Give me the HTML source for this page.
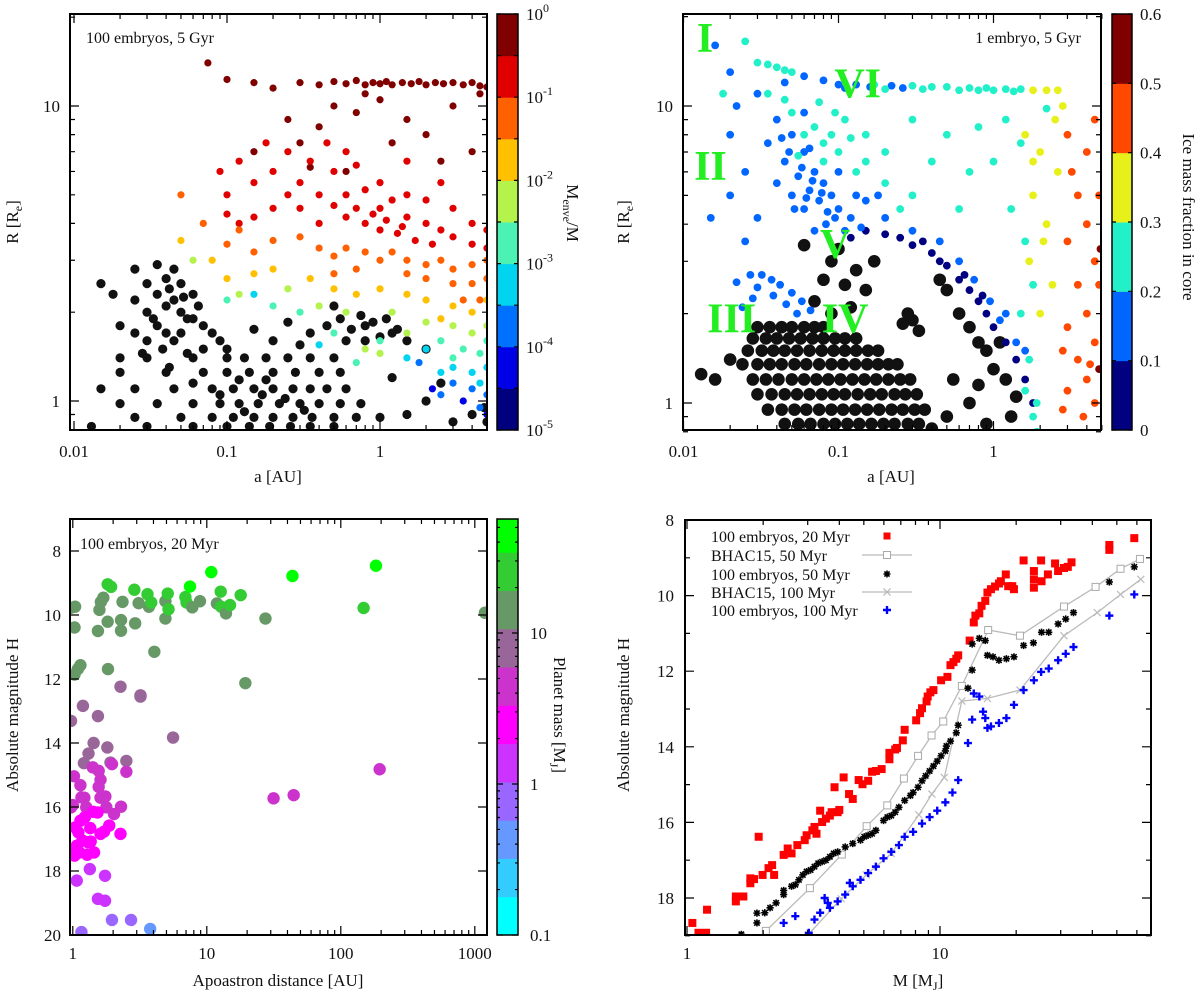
<!DOCTYPE html>
<html><head><meta charset="utf-8"><title>Planet population panels</title>
<style>
html,body{margin:0;padding:0;background:#fff;}
svg{display:block;font-family:"Liberation Serif","DejaVu Serif",serif;}
</style></head>
<body>
<svg id="fig" width="1200" height="1005" viewBox="0 0 1200 1005" xmlns="http://www.w3.org/2000/svg">
<defs>
<clipPath id="c1"><rect x="70" y="14" width="417" height="416"/></clipPath>
<clipPath id="c2"><rect x="683" y="14" width="418" height="416"/></clipPath>
<clipPath id="c3"><rect x="70" y="519" width="417" height="416"/></clipPath>
<clipPath id="c4"><rect x="685" y="520" width="466" height="415"/></clipPath>
</defs>
</svg>
<script>
// ---------------- Panel 1 data (a [AU], R [Re]); envelope fraction groups (log10 Menv/M) ----------------
const p1Black = [[0.025,2.8],[0.03,2.5],[0.035,2.9],[0.04,2.6],[0.045,2.8],[0.05,2.5],[0.06,2.3],[0.025,2.2],[0.03,2.0],[0.035,2.3],[0.04,2.1],[0.045,2.2],[0.05,2.0],[0.055,1.9],[0.06,1.9],[0.07,1.8],[0.08,1.7],[0.02,1.8],[0.025,1.7],[0.03,1.6],[0.035,1.8],[0.04,1.7],[0.045,1.6],[0.05,1.7],[0.065,2.1],[0.07,1.5],[0.09,1.6],[0.1,1.5],[0.018,2.3],[0.015,2.5],[0.02,1.4],[0.028,1.45],[0.038,1.5],[0.055,1.45],
[0.03,1.4],[0.06,1.4],[0.1,1.4],[0.13,1.4],[0.18,1.4],[0.25,1.4],[0.35,1.4],[0.5,1.4],
[0.02,1.25],[0.04,1.25],[0.07,1.25],[0.1,1.25],[0.14,1.25],[0.2,1.25],[0.28,1.25],[0.4,1.25],[0.55,1.25],
[0.015,1.1],[0.025,1.1],[0.045,1.1],[0.08,1.1],[0.11,1.1],[0.15,1.1],[0.2,1.1],[0.27,1.1],[0.35,1.1],[0.45,1.1],[0.6,1.1],
[0.02,0.98],[0.035,0.98],[0.06,0.98],[0.09,0.98],[0.12,0.98],[0.16,0.98],[0.22,0.98],[0.3,0.98],[0.4,0.98],[0.55,0.98],[0.75,0.98],
[0.025,0.88],[0.05,0.88],[0.08,0.88],[0.11,0.88],[0.15,0.88],[0.2,0.88],[0.27,0.88],[0.36,0.88],[0.5,0.88],[0.7,0.88],[1.0,0.88],
[0.013,0.82],[0.03,0.82],[0.06,0.82],[0.1,0.82],[0.14,0.82],[0.19,0.82],[0.26,0.82],[0.35,0.82],[0.5,0.82],
[0.45,1.8],[0.55,1.9],[0.65,1.75],[0.75,1.95],[0.9,1.85],[1.1,1.9],[1.3,1.75],[0.6,1.6],[0.8,1.6],[1.0,1.65],[1.5,1.6],[2,1.5],[0.5,2.1],[0.35,1.7],
[1.5,0.9],[2,1.0],[3,0.85],[4,0.9],[4.8,0.95],[5,0.85],[1.2,1.2],[2.5,1.15],[0.3,1.55],[0.2,1.6],[0.25,1.85],[0.15,1.75],
[0.12,1.18],[0.17,1.05],[0.24,1.02],[0.32,0.93],[0.13,0.92],[0.18,1.18],[0.09,1.05],[0.06,1.15],[0.042,1.3],[0.033,1.9],[0.042,2.4],[0.052,2.25],[0.8,1.8],[1.2,1.7]];
const p1DarkRed = [[0.3,12],[0.4,11.8],[0.5,12.1],[0.6,11.9],[0.7,12.2],[0.8,11.8],[0.9,12],[1,11.9],[1.1,12.1],[1.2,11.8],[1.4,12],[1.6,11.9],[1.8,12.1],[2,11.8],[2.3,12],[2.6,11.9],[3,12],[3.5,11.8],[4,12],[4.5,11.7],[5,11.6],
[0.1,12.3],[0.15,12],[0.075,14],[0.2,11.5],[0.25,9],[0.3,7.5],[0.4,8.5],[0.5,10],[0.7,9.5],[1,10.5],[1.5,9],[2,8],[3,10],[4,7],[2.5,6.5],[0.6,6],[0.15,7],[0.35,6.2],[4.5,11],[1.2,7.5],[0.8,11]];
const p1Red = [[0.09,6],[0.1,5],[0.12,6.5],[0.15,5.5],[0.2,6],[0.25,7],[0.3,5.5],[0.35,6.5],[0.4,5],[0.5,6],[0.6,5],[0.7,4.5],[0.8,5.2],[1,4.5],[1.2,4.8],[1.5,4.2],[2,4],[2.5,3.8],[3,3.6],[4,3.4],[5,3.3],[0.8,4],[1,3.8],[1.3,3.7],[1.7,3.5],[2.2,3.4],[0.6,4.2],[0.5,4.6],[0.4,4],[0.3,4.5],[0.2,4.5],[0.15,4.2],[0.12,4],[0.25,5],[0.7,6.3],[1,5.5],[1.5,5],[2,4.8],[3,4.5],[4,4],[5,3.8],[0.9,4.3],[1.1,4.1],[1.4,3.9],[0.45,7.5],[0.6,7],[1.5,6.5],[2.5,5.5],[0.18,7.5],[0.1,4.3]];
const p1Orange = [[0.1,3.4],[0.12,3.8],[0.15,3.2],[0.2,3.5],[0.3,3.6],[0.4,3.3],[0.5,3.1],[0.6,3.3],[0.8,3.2],[1,3.0],[1.2,3.2],[1.5,3.0],[2,2.9],[2.5,3.0],[3,2.8],[4,2.9],[5,3.0],[1.5,2.7],[2,2.6],[3,2.5],[4,2.5],[5,2.6],[0.7,2.8],[0.5,2.7],[4.5,2.2],[3.5,2.2],[0.07,4],[0.05,5]];
const p1Yellow = [[0.08,3.0],[0.1,2.6],[0.15,2.7],[0.2,2.8],[0.35,2.6],[0.5,2.4],[0.7,2.3],[1,2.4],[1.5,2.3],[2,2.2],[3,2.1],[4,2.0],[5,2.2],[2.5,1.9],[0.05,3.5]];
const p1YGreen = [[0.06,3],[0.12,2.3],[0.25,2.4],[0.4,2.1],[0.6,2.0],[1.2,2.0],[2,1.85],[3,1.8],[4,1.7],[5,1.8],[1.5,1.7],[0.8,1.5],[1.0,1.45]];
const p1Aqua = [[0.1,2.2],[0.2,2.1],[0.3,2.0],[0.5,1.7],[1,1.6],[2.5,1.6],[3.5,1.5],[4.5,1.45],[5,1.6],[3,1.4],[0.7,1.35]];
const p1Cyan = [[0.15,2.3],[0.4,1.55],[2,1.5],[3,1.3],[4,1.25],[5,1.3],[4.5,1.15],[2.5,1.25],[1.5,1.4]];
const p1Blue = [[4,1.1],[5,1.05],[3,1.15],[2.5,1.05],[4.5,0.95],[1.8,1.35]];
const p1Navy = [[3.5,1.0],[5,0.9],[2.2,1.1]];
const p1Groups = [p1DarkRed,p1Red,p1Orange,p1Yellow,p1YGreen,p1Aqua,p1Cyan,p1Blue,p1Navy];
const p1GroupLevels = [-0.25,-0.75,-1.25,-1.75,-2.25,-2.75,-3.25,-3.75,-4.25];
const p1CbLabels = ['0','-1','-2','-3','-4','-5'];

// ---------------- Panel 2 data (a, R); ice fraction groups ----------------
const p2Black = [[0.03,1.8],[0.036,1.8],[0.043,1.8],[0.05,1.8],[0.06,1.8],[0.07,1.8],[0.08,1.8],
[0.028,1.65],[0.034,1.65],[0.04,1.65],[0.048,1.65],[0.057,1.65],[0.068,1.65],[0.08,1.65],[0.095,1.65],[0.11,1.65],[0.13,1.65],
[0.026,1.5],[0.032,1.5],[0.038,1.5],[0.045,1.5],[0.054,1.5],[0.065,1.5],[0.078,1.5],[0.093,1.5],[0.11,1.5],[0.13,1.5],[0.155,1.5],[0.18,1.5],
[0.024,1.35],[0.03,1.35],[0.036,1.35],[0.043,1.35],[0.052,1.35],[0.062,1.35],[0.075,1.35],[0.09,1.35],[0.107,1.35],[0.128,1.35],[0.153,1.35],[0.18,1.35],[0.21,1.35],[0.24,1.35],
[0.028,1.2],[0.034,1.2],[0.041,1.2],[0.05,1.2],[0.06,1.2],[0.072,1.2],[0.086,1.2],[0.103,1.2],[0.123,1.2],[0.147,1.2],[0.175,1.2],[0.21,1.2],[0.25,1.2],[0.29,1.2],
[0.03,1.07],[0.037,1.07],[0.045,1.07],[0.054,1.07],[0.065,1.07],[0.078,1.07],[0.093,1.07],[0.11,1.07],[0.133,1.07],[0.16,1.07],[0.19,1.07],[0.23,1.07],[0.27,1.07],[0.32,1.07],
[0.035,0.95],[0.043,0.95],[0.052,0.95],[0.062,0.95],[0.075,0.95],[0.09,0.95],[0.107,0.95],[0.128,0.95],[0.153,0.95],[0.183,0.95],[0.22,0.95],[0.26,0.95],[0.31,0.95],[0.36,0.95],
[0.045,0.85],[0.055,0.85],[0.066,0.85],[0.08,0.85],[0.095,0.85],[0.114,0.85],[0.136,0.85],[0.163,0.85],[0.195,0.85],[0.23,0.85],[0.28,0.85],[0.33,0.85],
[0.07,2.2],[0.08,2.6],[0.09,3.0],[0.1,3.3],[0.11,2.5],[0.12,2.1],[0.13,2.8],[0.09,2.0],[0.06,3.4],[0.15,2.4],[0.17,3.0],[0.3,1.9],[0.28,2.0],[0.33,1.75],[0.26,1.85],[0.5,2.4],[0.6,2.0],[0.7,1.8],[0.8,1.6],[0.9,1.5],[1.0,1.3],[1.2,1.2],[1.4,1.05],[0.55,1.2],[0.7,1.0],[0.5,0.9],[0.9,0.85],[1.3,0.9],[0.016,1.2],[0.013,1.25],[0.02,1.4],[0.4,0.82],[0.8,1.15],[1.1,1.6],[0.45,2.6]];
const p2Navy = [[0.12,3.6],[0.15,3.8],[0.2,3.7],[0.25,3.6],[0.3,3.4],[0.4,3.2],[0.5,2.9],[0.6,2.6],[0.7,2.4],[0.8,2.2],[0.9,2.0],[1.0,1.8],[1.2,1.6],[1.4,1.4],[1.6,1.2],[1.8,1.0],[0.35,3.5],[0.45,3.0],[0.65,2.7],[0.85,2.3]];
const p2Blue = [[0.04,9],[0.05,8],[0.06,7],[0.045,6.5],[0.055,5.8],[0.065,5.2],[0.075,4.8],[0.085,4.4],[0.07,6],[0.08,5.5],[0.09,5],[0.1,4.5],[0.12,4.2],[0.05,5],[0.06,4.5],[0.04,5.5],[0.035,7.5],[0.1,6],[0.13,5],[0.15,4.8],[0.18,5],[0.06,9.5],[0.02,8],[0.025,6],[0.03,4.2],[0.11,3.8],[0.14,3.9],[0.07,3.8],
[0.2,4.2],[0.3,3.8],[0.45,3.5],[0.6,3.0],[0.75,2.6],[0.95,2.2],[1.1,1.9],[1.4,1.6],[1.6,1.5],[1.2,2.0],
[0.022,2.55],[0.027,2.7],[0.032,2.7],[0.037,2.6],[0.042,2.5],[0.05,2.35],[0.058,2.2],[0.066,2.05],[0.03,2.45],[0.038,2.3],[0.046,2.15],[0.054,2.0],[0.028,2.25],[0.024,2.1],
[0.016,16],[0.02,13],[0.022,10],[0.03,11],[0.015,4.2],[0.02,5],[0.025,3.5],[0.045,12],
[0.06,12.6],[0.08,12.2],[0.1,11.8],[0.13,11.8],[0.22,11.7],[0.11,11.5],[0.16,11.6],[0.26,11.5],
[0.048,7],[0.058,6.2],[0.068,5.6],[0.078,5.1],[0.052,4.5],[0.062,4.9],[0.083,4.0],[0.095,4.2],[0.043,7.8],[0.065,7.2]];
const p2Aqua = [[0.05,9.5],[0.07,8.5],[0.08,7.5],[0.09,8],[0.1,7],[0.06,8],[0.12,7.8],[0.11,9],[0.045,10.5],[0.15,6.5],[0.13,6],[0.055,6.8],[0.2,5.5],[0.08,6.5],
[0.3,9],[0.5,8],[0.8,8.5],[1.2,9],[0.2,7],[0.4,6.5],[0.7,6],[1,6.5],[1.5,7.5],[0.3,5],[0.6,4.5],[1.3,4.5],[1.6,3.5],[1.8,2.5],[1.5,2],[1.7,1.4],[1.9,1.0],[0.15,8],[0.25,4.5],[2.2,9.8],[1.8,0.9],[1.6,1.1],[1.9,0.8],
[0.03,14],[0.04,13.5],[0.05,13],[0.17,11.8],[0.3,11.7],[0.4,11.6],[0.5,11.6],[0.7,11.5],[0.9,11.5],[1.2,11.4],[1.5,11.4],[0.025,16.5],[0.018,11],[0.035,11],
[0.035,13.8],[0.045,13.2],[0.2,11.4],[0.35,11.4],[0.6,11.3],[0.8,11.3],[1.0,11.3],[1.35,11.2],[0.075,10.3],[0.095,9.5]];
const p2Yellow = [[1.8,11.3],[2.2,11.3],[2.6,11.3],[1.6,8],[2,7],[2.5,9],[1.8,5],[2.2,4],[1.7,3],[2.4,2.5],[2.6,6],[2,2],[1.8,6.5],[2.8,10],[2.1,3.5]];
const p2Orange = [[3,8],[4,7],[4.5,9],[3.5,5],[4,4],[3,3.5],[4.5,3],[3.5,2.5],[4,2],[3,1.8],[4.5,1.6],[3.5,1.4],[4,1.2],[3,1.1],[4.5,1.0],[3.8,0.9],[2.8,0.95],[4.8,5],[3.2,6],[4.8,2.5],[2.8,1.5],[4.2,1.35]];
const p2DarkRed = [[4.8,1.3],[4.9,3.3]];
const p2Groups = [p2Navy,p2Blue,p2Aqua,p2Yellow,p2Orange,p2DarkRed];
const p2GroupIce = [0.05,0.15,0.25,0.35,0.45,0.55];
const p2CbLabels = ['0','0.1','0.2','0.3','0.4','0.5','0.6'];
const p2Regions = ['I','II','III','IV','V','VI'];
const p2RegionA = [0.0122,0.0117,0.0142,0.078,0.076,0.094];
const p2RegionR = [15.2,5.63,1.73,1.73,3.08,10.7];

// ---------------- Panel 3 data: apoastron [AU], H, mass [MJ] ----------------
const p3Apo = [0.97,1.04,1.03,1.03,1.09,1.14,0.97,1.19,1.54,1.58,1.62,1.69,1.82,1.93,1.82,1.83,2.29,2.29,2.35,2.88,2.92,3.10,3.61,3.70,3.85,4.06,4.91,4.91,5.11,5.18,6.92,7.06,7.49,7.79,8.89,10.8,11.9,12.7,12.8,13.9,14.9,17.9,19.4,27.4,43.6,148,183,1190,
2.27,3.20,3.20,1.54,5.60,1.43,1.31,1.81,1.21,1.91,2.51,
1.02,2.51,1.14,1.41,1.56,1.61,1.56,1.22,1.61,1.75,1.96,0.97,1.0,1.26,1.78,2.03,2.29,195,31.5,44.5,1.16,
1.04,1.10,1.07,1.03,1.18,1.14,1.23,1.35,1.42,1.53,1.61,1.71,1.87,1.30,1.36,1.44,1.28,1.12,2.27,1.04,
1.07,1.34,1.74,1.54,1.74,1.96,2.72,1.16,3.78];
const p3H = [9.77,9.74,10.39,11.86,11.69,11.57,13.31,12.84,10.50,9.84,9.59,9.46,9.04,9.12,10.21,11.69,10.16,10.49,9.59,9.21,10.26,9.63,9.35,9.74,9.61,11.15,9.57,10.11,9.33,9.82,9.44,9.61,9.11,9.76,9.57,8.66,9.64,9.27,9.74,9.95,9.69,9.38,12.13,10.11,8.78,9.78,8.46,9.93,
12.24,12.51,12.55,13.16,13.83,14.00,14.33,14.14,14.63,14.61,14.56,
15.04,14.90,15.32,14.76,14.87,15.15,15.37,15.71,15.71,15.67,14.66,16.01,15.94,16.01,16.01,16.22,15.99,14.82,15.73,15.63,15.70,
16.64,16.79,17.21,17.52,17.05,16.43,16.32,16.66,16.15,16.17,16.84,16.77,16.58,17.10,17.08,17.42,17.49,17.42,16.84,17.31,
18.30,17.94,18.15,18.87,18.93,19.53,19.53,19.91,19.81];
const p3Mass = [14,14,14,14,14,14,7.8,7.8,14,14,14,14,25,25,14,14,14,14,14,25,14,14,25,14,25,14,14,14,25,25,25,25,45,14,14,45,14,25,25,14,25,25,14,14,45,25,45,14,
7.8,7.8,7.8,7.8,7.8,7.8,7.8,7.8,7.8,7.8,7.8,
4.4,4.4,4.4,4.4,4.4,4.4,4.4,4.4,4.4,4.4,4.4,4.4,4.4,4.4,4.4,4.4,4.4,4.4,4.4,4.4,4.4,
2.45,2.45,2.45,2.45,2.45,2.45,2.45,2.45,2.45,2.45,2.45,2.45,2.45,2.45,2.45,2.45,2.45,2.45,2.45,2.45,
1.37,1.37,1.37,1.37,1.37,0.77,0.77,0.77,0.43];
const p3CbTicks = [0.1,1,10];

// ---------------- Panel 4 data: M [MJ], H ----------------
const p4RedM = [1.05,1.11,1.20,1.19,1.56,1.56,1.67,1.78,1.78,1.84,1.92,1.99,2.10,2.17,2.21,2.41,2.50,2.59,2.73,2.92,2.97,3.13,3.19,3.25,3.36,3.42,3.54,3.67,3.73,3.83,3.94,4.00,4.16,4.37,4.52,4.77,4.94,5.20,5.39,5.58,5.88,6.31,6.31,6.65,6.76,7.13,7.25,8.05,8.34,8.49,8.85,8.94,9.16,9.42,10.1,10.7,11.0,11.3,11.6,11.8,13.1,13.6,13.8,14.3,14.6,15.1,15.4,15.9,16.5,17.1,17.4,18.2,18.6,19.3,19.6,21.4,23.5,23.5,23.5,25.1,25.2,26.7,28.5,29.3,30.9,32.0,33.1,46.7,46.7,58.6];
const p4RedH = [18.66,18.92,18.31,18.92,18.09,17.96,17.96,17.61,17.48,17.50,16.38,17.39,17.21,17.13,17.39,16.86,16.69,16.82,16.60,16.47,16.34,16.21,16.12,16.30,15.69,15.99,15.90,15.82,15.73,15.07,15.73,15.67,14.81,15.25,15.38,14.88,14.99,14.90,14.66,14.64,14.59,14.16,14.33,14.07,14.03,13.83,13.55,13.30,13.11,12.98,12.80,12.67,12.56,12.50,12.24,12.15,11.84,11.76,11.67,11.58,11.19,10.71,10.53,10.47,10.27,10.14,9.92,9.83,9.76,9.68,9.62,9.44,9.75,9.75,9.83,9.07,9.35,9.57,9.79,9.07,9.62,9.44,9.15,9.35,9.27,9.24,9.12,8.66,8.79,8.48];
const p4BlackM = [1.64,1.89,2.03,2.13,2.25,2.41,2.59,2.77,2.97,3.19,3.42,3.67,3.94,4.22,4.52,4.85,5.20,5.58,5.98,6.42,6.88,7.25,7.83,8.49,9.10,9.75,10.5,11.0,11.6,11.8,12.9,13.4,13.4,14.3,15.1,15.4,16.2,17.1,18.3,19.6,21.4,23.4,25.2,26.9,29.3,31.4,33.7,46.7,58.6,
2.68,2.87,3.08,3.30,3.54,3.80,5.02,5.39,6.19,6.65,7.64,8.19,8.78,9.42,10.1,10.6,1.89,2.41];
const p4BlackH = [18.96,18.66,18.39,18.26,18.13,17.91,17.69,17.52,17.30,17.17,17.04,16.91,16.78,16.65,16.56,16.47,16.34,16.21,15.95,15.82,15.60,15.42,15.21,14.90,14.64,14.38,14.11,13.85,13.63,13.43,12.45,11.97,11.28,11.13,11.19,11.58,11.62,11.71,11.67,11.62,11.32,11.25,10.97,10.97,10.75,10.62,10.45,9.64,9.24,
17.65,17.39,17.26,17.08,17.00,16.82,16.38,16.30,15.86,15.73,15.29,15.07,14.77,14.51,14.24,13.98,18.40,17.80];
const p4BlueM = [2.41,3.03,3.19,3.36,3.60,3.67,3.94,4.22,4.52,4.85,5.20,5.58,5.98,6.42,6.88,7.25,7.83,8.49,9.10,9.75,10.5,11.2,11.8,12.9,13.4,13.6,14.3,14.8,15.1,15.4,15.9,17.1,18.3,19.6,21.4,23.5,25.1,26.9,29.3,31.4,33.7,46.7,58.6,2.68,3.50,4.40];
const p4BlueH = [18.66,18.92,18.57,18.39,18.13,18.26,18.09,17.91,17.69,17.52,17.34,17.17,16.95,16.78,16.60,16.38,16.25,16.03,15.86,15.69,15.47,15.21,14.88,13.90,13.28,12.59,12.67,13.07,13.24,13.50,13.46,13.37,13.24,12.89,12.50,12.24,12.02,11.93,11.71,11.54,11.36,10.53,9.97,18.48,18.00,17.60];
const bhac50M = [2.05,3.06,4.09,5.13,6.19,7.20,8.19,9.26,10.3,12.2,15.5,20.7,30.9,41.2,51.7,61.7];
const bhac50H = [18.87,17.74,16.85,16.10,15.55,14.84,14.24,13.70,13.33,12.39,10.91,11.06,10.29,9.77,9.29,9.03];
const bhac100M = [3.06,4.07,5.11,6.42,8.25,9.29,10.4,12.2,15.4,20.7,30.9,41.8,51.7,62.2];
const bhac100H = [18.92,18.02,17.39,16.82,15.80,15.25,14.81,12.79,12.72,12.50,11.06,10.45,9.97,9.57];
const p4LegendLabels = ['100 embryos, 20 Myr','BHAC15, 50 Myr','100 embryos, 50 Myr','BHAC15, 100 Myr','100 embryos, 100 Myr'];

// ---------------- scales ----------------
const L = Math.log10;
const x1 = a => 74 + 153*L(a/0.01),  y1 = R => 401 - 295*L(R);
const x2 = a => 683.5 + 155*L(a/0.01), y2 = R => 403 - 297*L(R);
const x3 = a => 72.8 + 134*L(a), y3 = H => 519 + (H-7)*32;
const x4 = M => 687 + 253*L(M), y4 = H => 520 + (H-8)*37.8;
const cb1 = v => 430 - (v+5)/5*416;
const cb2 = f => 430 - f/0.6*416;
const cb3 = m => 935 - L(m/0.1)*151;
const p1Colors = ['#00007f','#0000e6','#0070ff','#00d4f0','#4cf2b4','#b4f24c','#ffc000','#ff6000','#e00000','#800000'];
const p2Colors = ['#000080','#0066ff','#22f0c8','#e8f01a','#ff4800','#800000'];
const p3Colors = ['#00ffff','#33ccff','#6699ff','#9966ff','#cc33ff','#ff00ff','#cc33cc','#996699','#669966','#33cc33','#00ff00'];
const colP1 = v => p1Colors[Math.max(0,Math.min(9,Math.floor((v+5)/0.5)))];
const colP2 = f => p2Colors[Math.max(0,Math.min(5,Math.floor(f/0.1)))];
const colP3 = m => p3Colors[Math.max(0,Math.min(10,Math.floor(L(m/0.1)/0.2535)))];

const NS = 'http://www.w3.org/2000/svg';
const svg = document.getElementById('fig');
function mk(tag, attrs, parent){
  const e = document.createElementNS(NS, tag);
  for (const k in attrs) e.setAttribute(k, attrs[k]);
  (parent||svg).appendChild(e);
  return e;
}
function grp(name, clip){
  const g = mk('g', clip ? {'clip-path':'url(#'+clip+')'} : {});
  
  
  return g;
}
function txt(s, x, y, opt, parent, name){
  const t = mk('text', Object.assign({x:x, y:y, 'font-size':17, fill:'#111'}, opt||{}), parent);
  t.textContent = s;
  
  
  return t;
}
function dot(g, cx, cy, r, fill, name){
  const c = mk('circle', {cx:cx, cy:cy, r:r, fill:fill}, g);
  
  
}
function box(x, y, w, h, name){
  const r = mk('rect', {x:x, y:y, width:w, height:h, fill:'none', stroke:'#000', 'stroke-width':2});
  
  
}
function tickLines(g, list){
  const p = mk('path', {d:list.join(''), stroke:'#000', 'stroke-width':1.2, fill:'none'}, g);
  
  
}
function logVals(lo, hi){ const out=[]; for(let d=Math.floor(L(lo)); d<=Math.ceil(L(hi)); d++){ for(let k=1;k<10;k++){ const v=k*Math.pow(10,d); if(v>=lo*0.999&&v<=hi*1.001) out.push([v,k===1]); } } return out; }
function axesTicks(name, bx0, bx1, by0, by1, xs, ys){
  const g = grp(name);
  const d=[];
  xs.forEach(([px,maj])=>{ const l=maj?9:5; d.push(`M${px},${by1}v${-l}M${px},${by0}v${l}`); });
  ys.forEach(([py,maj])=>{ const l=maj?9:5; d.push(`M${bx0},${py}h${l}M${bx1},${py}h${-l}`); });
  tickLines(g, d);
  return g;
}

// =============== PANEL 1 ===============
(function(){
  const g = grp('panel1-points', 'c1');
  p1Black.forEach(p => dot(g, x1(p[0]), y1(p[1]), 4.6, '#111', 'no-envelope-planet'));
  p1Groups.forEach((arr, gi) => {
    const col = colP1(p1GroupLevels[gi]);
    arr.forEach(p => dot(g, x1(p[0]), y1(p[1]), 3.6, col, 'envelope-planet'));
  });
  box(70, 14, 417, 416, 'panel1-frame');
  axesTicks('panel1-ticks', 70, 487, 14, 430,
    logVals(0.0095, 5).map(([v,m])=>[x1(v),m]),
    logVals(0.8, 20).map(([v,m])=>[y1(v),m]));
  const lg = grp('panel1-labels');
  [0.01,0.1,1].forEach(v => txt(String(v), x1(v), 457, {'text-anchor':'middle'}, lg, 'x-tick-label'));
  [1,10].forEach(v => txt(String(v), 60, y1(v)+6, {'text-anchor':'end'}, lg, 'y-tick-label'));
  txt('a [AU]', 278, 482, {'text-anchor':'middle'}, lg, 'x-axis-title');
  const yt = txt('R [R', 0, 0, {'text-anchor':'middle', transform:'translate(18,222) rotate(-90)'}, lg, 'y-axis-title');
  const s1 = mk('tspan', {dy:4, 'font-size':12}, yt); s1.textContent='e';
  const s2 = mk('tspan', {dy:-4}, yt); s2.textContent=']';
  txt('100 embryos, 5 Gyr', 86, 43, {'font-size':16}, lg, 'panel1-annotation');
  const cg = grp('panel1-colorbar');
  p1Colors.forEach((c, i) => {
    const lo = -5 + i*0.5;
    const r = mk('rect', {x:497, y:cb1(lo+0.5), width:21, height:cb1(lo)-cb1(lo+0.5)+0.5, fill:c}, cg);
    
    
  });
  const fr = mk('rect', {x:497, y:14, width:21, height:416, fill:'none', stroke:'#000', 'stroke-width':1.5}, cg);
  
  
  const cd=[]; for(let i=0;i<=10;i++){ const y=cb1(-5+i*0.5); cd.push(`M497,${y}h4M518,${y}h-4`); }
  tickLines(cg, cd);
  p1CbLabels.forEach(e => {
    const t = txt('10', 526, cb1(+e)+6, {}, cg, 'colorbar-tick-label');
    const sp = mk('tspan', {dy:-8, 'font-size':12}, t); sp.textContent = e;
  });
  const ct = txt('M', 0, 0, {'text-anchor':'middle', transform:'translate(567,213) rotate(90)'}, cg, 'colorbar-title');
  const c1 = mk('tspan', {dy:4, 'font-size':12}, ct); c1.textContent='enve';
  const c2 = mk('tspan', {dy:-4}, ct); c2.textContent='/M';
})();

// =============== PANEL 2 ===============
(function(){
  const g = grp('panel2-points', 'c2');
  p2Black.forEach(p => dot(g, x2(p[0]), y2(p[1]), 6.3, '#111', 'rocky-planet'));
  p2Groups.forEach((arr, gi) => {
    const col = colP2(p2GroupIce[gi]);
    arr.forEach(p => dot(g, x2(p[0]), y2(p[1]), 3.9, col, 'icy-planet'));
  });
  box(683, 14, 418, 416, 'panel2-frame');
  axesTicks('panel2-ticks', 683, 1101, 14, 430,
    logVals(0.01, 5).map(([v,m])=>[x2(v),m]),
    logVals(0.8, 20).map(([v,m])=>[y2(v),m]));
  const lg = grp('panel2-labels');
  [0.01,0.1,1].forEach(v => txt(String(v), x2(v), 457, {'text-anchor':'middle'}, lg, 'x-tick-label'));
  [1,10].forEach(v => txt(String(v), 673, y2(v)+6, {'text-anchor':'end'}, lg, 'y-tick-label'));
  txt('a [AU]', 891, 482, {'text-anchor':'middle'}, lg, 'x-axis-title');
  const yt = txt('R [R', 0, 0, {'text-anchor':'middle', transform:'translate(629,222) rotate(-90)'}, lg, 'y-axis-title');
  const s1 = mk('tspan', {dy:4, 'font-size':12}, yt); s1.textContent='e';
  const s2 = mk('tspan', {dy:-4}, yt); s2.textContent=']';
  txt('1 embryo, 5 Gyr', 1081, 43, {'font-size':16, 'text-anchor':'end'}, lg, 'panel2-annotation');
  p2Regions.forEach((s, i) => txt(s, x2(p2RegionA[i]), y2(p2RegionR[i]), {'font-size':42, 'font-weight':'bold', fill:'#22ee22', 'text-anchor':'start'}, lg, 'region-label'));
  const cg = grp('panel2-colorbar');
  p2Colors.forEach((c, i) => {
    const r = mk('rect', {x:1112, y:cb2((i+1)*0.1), width:20, height:cb2(i*0.1)-cb2((i+1)*0.1)+0.5, fill:c}, cg);
    
    
  });
  const fr = mk('rect', {x:1112, y:14, width:20, height:416, fill:'none', stroke:'#000', 'stroke-width':1.5}, cg);
  
  
  const cd=[]; p2CbLabels.forEach(s=>{ const y=cb2(+s); cd.push(`M1112,${y}h4M1132,${y}h-4`); });
  tickLines(cg, cd);
  p2CbLabels.forEach(s => txt(s, 1140, cb2(+s)+6, {}, cg, 'colorbar-tick-label'));
  txt('Ice mass fraction in core', 0, 0, {'text-anchor':'middle', transform:'translate(1183,217) rotate(90)'}, cg, 'colorbar-title');
})();

// =============== PANEL 3 ===============
(function(){
  const g = grp('panel3-points', 'c3');
  p3Apo.forEach((a, i) => dot(g, x3(a), y3(p3H[i]), 6.2, colP3(p3Mass[i]), 'planet-point'));
  box(70, 519, 417, 416, 'panel3-frame');
  const ys=[]; for(let h=8; h<=20; h+=2) ys.push([y3(h), true]);
  axesTicks('panel3-ticks', 70, 487, 519, 935, logVals(1, 1200).map(([v,m])=>[x3(v),m]), ys);
  const lg = grp('panel3-labels');
  [1,10,100,1000].forEach(v => txt(String(v), x3(v), 959, {'text-anchor':'middle'}, lg, 'x-tick-label'));
  for(let h=8; h<=20; h+=2) txt(String(h), 61, y3(h)+6, {'text-anchor':'end'}, lg, 'y-tick-label');
  txt('Apoastron distance [AU]', 278, 986, {'text-anchor':'middle'}, lg, 'x-axis-title');
  txt('Absolute magnitude H', 0, 0, {'text-anchor':'middle', transform:'translate(18,715) rotate(-90)'}, lg, 'y-axis-title');
  txt('100 embryos, 20 Myr', 80, 549, {'font-size':16}, lg, 'panel3-annotation');
  const cg = grp('panel3-colorbar');
  p3Colors.forEach((c, i) => {
    const lo = 0.1*Math.pow(10, i*0.2535), hi = 0.1*Math.pow(10,(i+1)*0.2535);
    const r = mk('rect', {x:497, y:Math.max(519,cb3(hi)), width:21, height:cb3(lo)-Math.max(519,cb3(hi))+0.5, fill:c}, cg);
    
    
  });
  const fr = mk('rect', {x:497, y:519, width:21, height:416, fill:'none', stroke:'#000', 'stroke-width':1.5}, cg);
  
  
  const cd=[]; logVals(0.1, 50).forEach(([v,m])=>{ const y=cb3(v); const l=m?6:3; cd.push(`M497,${y}h${l}M518,${y}h${-l}`); });
  tickLines(cg, cd);
  p3CbTicks.forEach(v => txt(String(v), 530, cb3(v)+6, {}, cg, 'colorbar-tick-label'));
  const ct = txt('Planet mass [M', 0, 0, {'text-anchor':'middle', transform:'translate(554,715) rotate(90)'}, cg, 'colorbar-title');
  const c1 = mk('tspan', {dy:4, 'font-size':12}, ct); c1.textContent='J';
  const c2 = mk('tspan', {dy:-4}, ct); c2.textContent=']';
})();

// =============== PANEL 4 ===============
(function(){
  const g = grp('panel4-series', 'c4');
  function line(Ms, Hs, name){
    const d = Ms.map((m,i)=>(i?'L':'M')+x4(m).toFixed(1)+','+y4(Hs[i]).toFixed(1)).join('');
    const p = mk('path', {d:d, fill:'none', stroke:'#bbb', 'stroke-width':1.3}, g);
    
    
  }
  line(bhac50M, bhac50H, 'bhac15-50myr-line');
  line(bhac100M, bhac100H, 'bhac15-100myr-line');
  bhac50M.forEach((m,i)=>{
    const r = mk('rect', {x:x4(m)-3.5, y:y4(bhac50H[i])-3.5, width:7, height:7, fill:'#fff', stroke:'#aaa', 'stroke-width':1}, g);
    
    
  });
  bhac100M.forEach((m,i)=>{
    const x=x4(m), y=y4(bhac100H[i]);
    const p = mk('path', {d:`M${x-3.5},${y-3.5}L${x+3.5},${y+3.5}M${x-3.5},${y+3.5}L${x+3.5},${y-3.5}`, stroke:'#bbb', 'stroke-width':1.2}, g);
    
    
  });
  p4RedM.forEach((m,i)=>{
    const r = mk('rect', {x:x4(m)-4, y:y4(p4RedH[i])-4, width:8, height:8, fill:'#ff0000'}, g);
    
    
  });
  p4BlackM.forEach((m,i)=>{
    const x=x4(m), y=y4(p4BlackH[i]), s=3.6;
    const p = mk('path', {d:`M${x-s},${y}h${2*s}M${x},${y-s}v${2*s}M${x-s*0.75},${y-s*0.75}l${1.5*s},${1.5*s}M${x-s*0.75},${y+s*0.75}l${1.5*s},${-1.5*s}`, stroke:'#000', 'stroke-width':1.6}, g);
    
    
  });
  p4BlueM.forEach((m,i)=>{
    const x=x4(m), y=y4(p4BlueH[i]), s=4;
    const p = mk('path', {d:`M${x-s},${y}h${2*s}M${x},${y-s}v${2*s}`, stroke:'#0000ff', 'stroke-width':2.4}, g);
    
    
  });
  box(685, 520, 466, 415, 'panel4-frame');
  const ys=[]; for(let h=8; h<=19; h++) ys.push([y4(h), h%2===0]);
  axesTicks('panel4-ticks', 685, 1151, 520, 935, logVals(1, 68).map(([v,m])=>[x4(v),m]), ys);
  const lg = grp('panel4-labels');
  [1,10].forEach(v => txt(String(v), x4(v), 959, {'text-anchor':'middle'}, lg, 'x-tick-label'));
  for(let h=8; h<=18; h+=2) txt(String(h), 674, y4(h)+6, {'text-anchor':'end'}, lg, 'y-tick-label');
  const xt = txt('M [M', 918, 986, {'text-anchor':'middle'}, lg, 'x-axis-title');
  const s1 = mk('tspan', {dy:4, 'font-size':12}, xt); s1.textContent='J';
  const s2 = mk('tspan', {dy:-4}, xt); s2.textContent=']';
  txt('Absolute magnitude H', 0, 0, {'text-anchor':'middle', transform:'translate(629,715) rotate(-90)'}, lg, 'y-axis-title');
  const leg = grp('panel4-legend');
  const rowsY = [536,555,574,592,610];
  p4LegendLabels.forEach((s,i)=> txt(s, 711, rowsY[i]+6, {'font-size':16}, leg, 'legend-entry'));
  const sx = 887;
  let e = mk('rect', {x:sx-3.5, y:rowsY[0]-3.5, width:7, height:7, fill:'#ff0000'}, leg);
  
  
  e = mk('path', {d:`M862,${rowsY[1]}H912`, stroke:'#bbb', 'stroke-width':1.3}, leg);
  
  
  e = mk('rect', {x:sx-3.5, y:rowsY[1]-3.5, width:7, height:7, fill:'#fff', stroke:'#aaa'}, leg);
  
  
  e = mk('path', {d:`M${sx-3.5},${rowsY[2]}h7M${sx},${rowsY[2]-3.5}v7M${sx-2.6},${rowsY[2]-2.6}l5.2,5.2M${sx-2.6},${rowsY[2]+2.6}l5.2,-5.2`, stroke:'#000', 'stroke-width':1.6}, leg);
  
  
  e = mk('path', {d:`M862,${rowsY[3]}H912M${sx-3.5},${rowsY[3]-3.5}l7,7M${sx-3.5},${rowsY[3]+3.5}l7,-7`, stroke:'#bbb', 'stroke-width':1.3}, leg);
  
  
  e = mk('path', {d:`M${sx-4},${rowsY[4]}h8M${sx},${rowsY[4]-4}v8`, stroke:'#0000ff', 'stroke-width':2.4}, leg);
  
  
})();
</script>
</body></html>
